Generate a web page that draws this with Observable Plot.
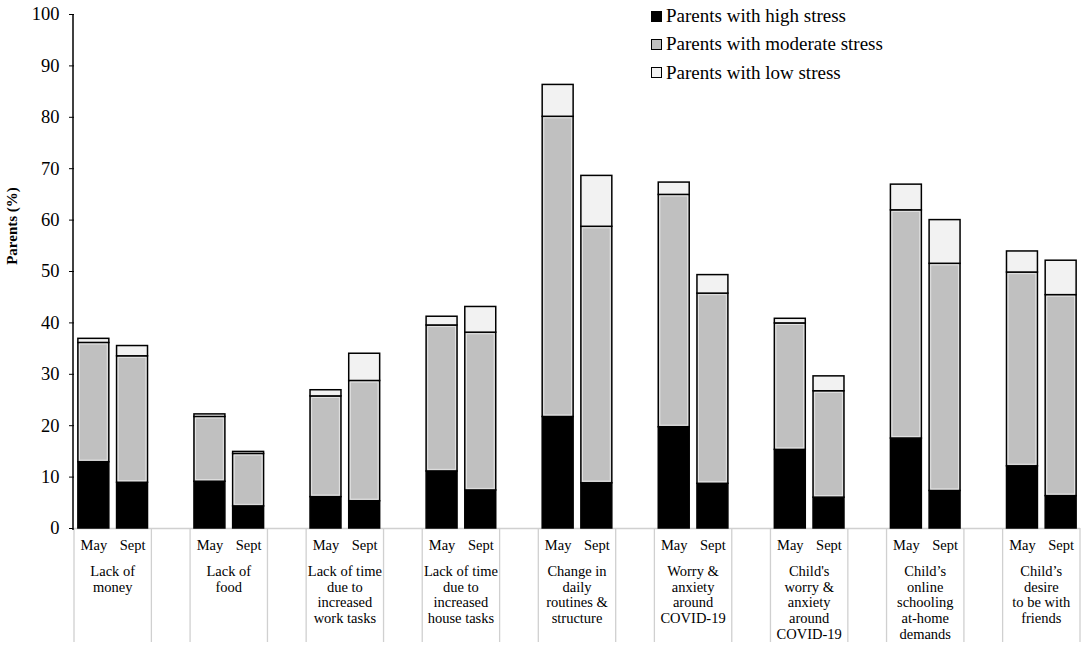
<!DOCTYPE html>
<html>
<head>
<meta charset="utf-8">
<script src="https://cdn.jsdelivr.net/npm/d3@7"></script>
<script src="https://cdn.jsdelivr.net/npm/@observablehq/plot@0.6"></script>
<style>
  body { margin: 0; background: #fff; }
  #wrap { position: relative; width: 1084px; height: 650px; font-family: "Liberation Serif", "Times New Roman", serif; }
  #legend { position: absolute; left: 651px; top: 2px; font-size: 19px; color: #000; }
  .row { display: flex; align-items: center; height: 28.3px; white-space: nowrap; }
  .sw { width: 9px; height: 9px; border: 1px solid #000; margin-right: 4px; box-sizing: content-box; }
  #ylabel { position: absolute; left: 12px; top: 226px; transform: translate(-50%, -50%) rotate(-90deg);
            font-weight: bold; font-size: 15px; white-space: nowrap; color: #000; }
</style>
</head>
<body>
<div id="wrap">
  <div id="chart"></div>
  <div id="legend"></div>
  <div id="ylabel">Parents (%)</div>
</div>
<script>
// ---------- data ----------
const groups = [
  "Lack of\nmoney",
  "Lack of\nfood",
  "Lack of time\ndue to\nincreased\nwork tasks",
  "Lack of time\ndue to\nincreased\nhouse tasks",
  "Change in\ndaily\nroutines &\nstructure",
  "Worry &\nanxiety\naround\nCOVID-19",
  "Child's\nworry &\nanxiety\naround\nCOVID-19",
  "Child’s\nonline\nschooling\nat-home\ndemands",
  "Child’s\ndesire\nto be with\nfriends"
];
const periods = ["May", "Sept"];
const series = ["Parents with high stress", "Parents with moderate stress", "Parents with low stress"];
const colors = ["#000000", "#c0c0c0", "#f2f2f2"];
// values per group: May, Sept
const high     = [12.9, 8.9,  9.1, 4.3,  6.1, 5.3,  11.1, 7.4,  21.7, 8.8,  19.7, 8.7,  15.3, 6.0,  17.5, 7.3,  12.1, 6.3];
const moderate = [23.2, 24.6, 12.6, 10.2, 19.6, 23.4, 28.4, 30.7, 58.4, 49.9, 45.2, 37.0, 24.6, 20.7, 44.4, 44.2, 37.7, 39.1];
const low      = [0.8, 2.0,  0.5, 0.4,  1.2, 5.3,  1.7, 5.0,  6.2, 9.9,  2.4, 3.6,  0.9, 2.9,  5.0, 8.5,  4.1, 6.7];
const yTicks = [0, 10, 20, 30, 40, 50, 60, 70, 80, 90, 100];

// ---------- build ----------
const slots = [];
groups.forEach((g, i) => {
  periods.forEach(p => slots.push(`${i}|${p}`));
  if (i < groups.length - 1) slots.push(`${i}|gap`);
});
const valueSets = [high, moderate, low];
const rows = [];
groups.forEach((g, i) => {
  periods.forEach((p, j) => {
    series.forEach((s, k) => {
      rows.push({slot: `${i}|${p}`, series: s, value: valueSets[k][i * 2 + j]});
    });
  });
});

// custom mark: multi-level category axis (separators + group labels) and y axis line
function categoryAxis(index, scales, values, dimensions) {
  const x = scales.x, y = scales.y;
  const step = x.step(), bw = x.bandwidth();
  const pad = (step - bw) / 2;
  const y0 = y(0);
  const yBottom = dimensions.height - 8;
  const g = d3.create("svg:g");
  const edges = [];
  groups.forEach((name, i) => {
    const a = x(`${i}|${periods[0]}`) - pad;
    const b = x(`${i}|${periods[1]}`) + bw + pad;
    edges.push(a, b);
    const cx = (a + b) / 2;
    const t = g.append("text")
      .attr("x", cx).attr("y", y0 + 48)
      .attr("text-anchor", "middle")
      .attr("font-size", 14.5)
      .attr("fill", "#000");
    name.split("\n").forEach((line, k) => {
      t.append("tspan").attr("x", cx).attr("dy", k ? 15.7 : 0).text(line);
    });
  });
  edges.forEach(e => {
    g.append("line")
      .attr("x1", e).attr("x2", e)
      .attr("y1", y0).attr("y2", yBottom)
      .attr("stroke", "#d0d0d0").attr("stroke-width", 1.3);
  });
  // y axis line
  g.append("line")
    .attr("x1", edges[0] - 1).attr("x2", edges[0] - 1)
    .attr("y1", y(100)).attr("y2", y0 + 2)
    .attr("stroke", "#000").attr("stroke-width", 1.5);
  return g.node();
}

const chart = Plot.plot({
  width: 1084,
  height: 650,
  marginLeft: 74,
  marginRight: 4,
  marginTop: 14,
  marginBottom: 122,
  style: {fontFamily: "Liberation Serif, Times New Roman, serif", background: "white", color: "#000"},
  x: {domain: slots, paddingInner: 0.2, paddingOuter: 0.1, round: false, axis: null},
  y: {domain: [0, 100], axis: null},
  color: {domain: series, range: colors},
  marks: [
    Plot.ruleY([0], {stroke: "#d0d0d0", strokeWidth: 1.3}),
    Plot.barY(rows, {x: "slot", y: "value", fill: "series", stroke: "#000", strokeWidth: 1.5}),
    Plot.barY(rows, {
      x: "slot", y: "value", fill: "none",
      stroke: {value: d => d.series === series[1] ? "#e2e2e2" : "none", scale: null},
      strokeWidth: 1, inset: 1.6
    }),
    Plot.axisY({ticks: yTicks, tickSize: 5, tickPadding: 10, fontSize: 18.5, label: null}),
    Plot.axisX({
      tickFormat: d => { const p = d.split("|")[1]; return p === "gap" ? "" : p; },
      tickSize: 0, tickPadding: 11, fontSize: 14.5, label: null
    }),
    categoryAxis
  ]
});
document.getElementById("chart").appendChild(chart);

// legend
const legend = document.getElementById("legend");
series.forEach((s, k) => {
  const row = document.createElement("div");
  row.className = "row";
  const sw = document.createElement("span");
  sw.className = "sw";
  sw.style.background = colors[k];
  const label = document.createElement("span");
  label.textContent = s;
  row.appendChild(sw);
  row.appendChild(label);
  legend.appendChild(row);
});
</script>
</body>
</html>
